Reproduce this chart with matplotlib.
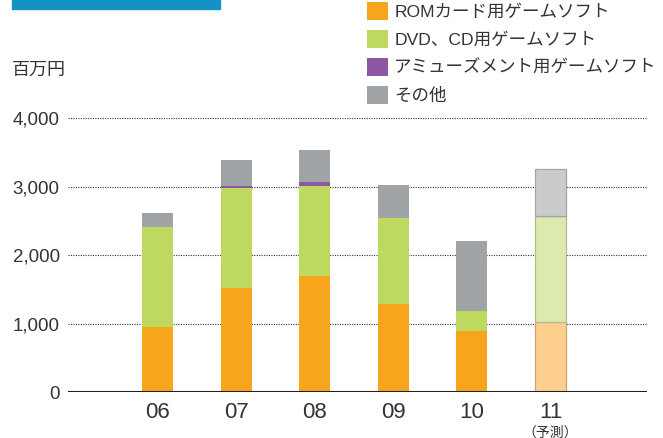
import matplotlib
matplotlib.use("Agg")
import matplotlib.pyplot as plt
import matplotlib.transforms as mtransforms
from matplotlib.patches import Patch, Rectangle
import numpy as np

plt.rcParams['font.family'] = ['Liberation Sans', 'Noto Sans CJK JP', 'DejaVu Sans']

years = ["06", "07", "08", "09", "10", "11"]
rom = [950, 1523, 1693, 1290, 892, 1033]
dvd = [1456, 1455, 1310, 1247, 291, 1543]
amuse = [0, 29, 63, 0, 0, 0]
other = [204, 374, 461, 481, 1019, 685]
series_labels = ["ROMカード用ゲームソフト", "DVD、CD用ゲームソフト", "アミューズメント用ゲームソフト", "その他"]
yticks = [0, 1000, 2000, 3000, 4000]
ytick_labels = ["0", "1,000", "2,000", "3,000", "4,000"]

colors = ["#F7A51C", "#BED95F", "#8E57A3", "#A0A4A6"]
light = ["#FDCE8D", "#DCE9B0", "#D9C5E0", "#CACBCD"]
light_edge = ["#C9A470", "#AFBE86", "#A893B3", "#A4A5A8"]

fig = plt.figure(figsize=(6.63, 4.38), dpi=100)
ax = fig.add_axes([0.1026, 0.1039, 0.8734, 0.6267])

x = np.arange(len(years))
w = 0.394
series = [rom, dvd, amuse, other]
bottom = np.zeros(len(years))
n = len(years)
for s, vals in enumerate(series):
    vals = np.array(vals, dtype=float)
    fc = [colors[s]] * (n - 1) + [light[s]]
    ec = ["none"] * (n - 1) + [light_edge[s]]
    lw = [0] * (n - 1) + [0.9]
    ax.bar(x, vals, w, bottom=bottom, color=fc, edgecolor=ec, linewidth=lw, zorder=3)
    bottom += vals

ax.set_xlim(-1.139, 6.228)
ax.set_ylim(0, 4000)
ax.set_yticks(yticks)
ax.set_yticklabels(ytick_labels)
for yv in yticks[1:]:
    ax.axhline(yv, color="#333333", linestyle=(0, (1, 1.2)), linewidth=0.8, zorder=1)
ax.axhline(0, color="#231F20", linewidth=2.2, zorder=4)

for sp in ax.spines.values():
    sp.set_visible(False)
ax.tick_params(axis='y', length=0, pad=6, labelsize=13.5, labelcolor="#333333")
ax.tick_params(axis='x', length=0, pad=7, labelsize=16, labelcolor="#333333")
ax.set_xticks(x)
ax.set_xticklabels(years)

trans = mtransforms.blended_transform_factory(ax.transData, ax.transAxes)
ax.text(x[-1], -0.145, "（予測）", transform=trans, ha="center", va="center",
        fontsize=10, color="#333333")

fig.text(12 / 663, 1 - 70 / 438, "百万円", fontsize=13, color="#333333",
         ha="left", va="center")

fig.patches.append(Rectangle((12 / 663, 1 - 9 / 438), 208 / 663, 9 / 438,
                             transform=fig.transFigure, color="#1592C4", zorder=0))

handles = [Patch(facecolor=c, edgecolor="none") for c in colors]
leg = fig.legend(handles, series_labels, loc="upper left",
                 bbox_to_anchor=(367 / 663, 1 - 2 / 438), frameon=False,
                 fontsize=12.6, handlelength=1.2, handleheight=1.2,
                 handletextpad=0.35, labelspacing=0.58, borderpad=0, borderaxespad=0)
for t in leg.get_texts():
    t.set_color("#333333")

fig.savefig("out.png", dpi=100)
